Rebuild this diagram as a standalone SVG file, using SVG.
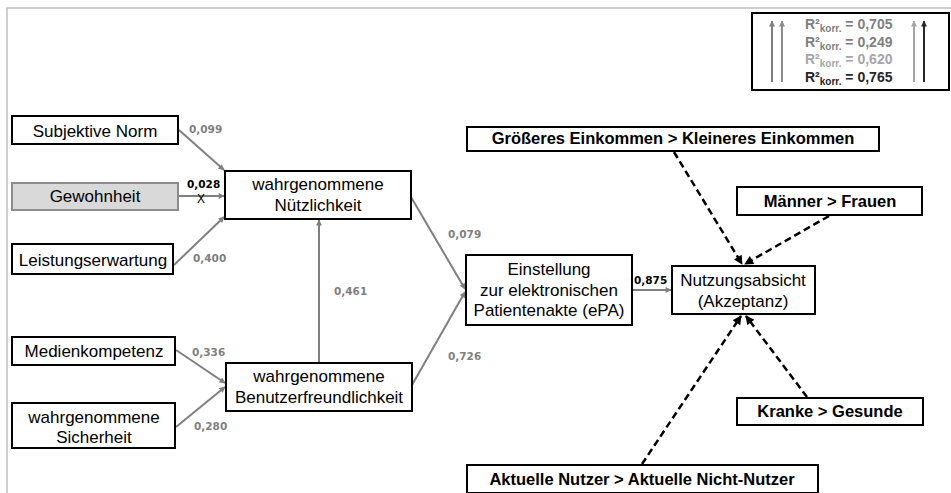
<svg xmlns="http://www.w3.org/2000/svg" width="951" height="493" viewBox="0 0 951 493">
<style>
.box{fill:#fff;stroke:#000;stroke-width:2}
.t{font-family:"Liberation Sans",Arial,sans-serif;font-size:17px;fill:#000;text-anchor:middle}
.tb{font-family:"Liberation Sans",Arial,sans-serif;font-size:16.5px;font-weight:bold;fill:#000;text-anchor:middle}
.n{font-family:"DejaVu Sans",sans-serif;font-size:10.5px;font-weight:bold;fill:#7f7f7f}
.g{stroke:#7f7f7f;stroke-width:2;fill:none;marker-end:url(#ag)}
.d{stroke:#000;stroke-width:2.5;stroke-dasharray:7 4;fill:none;marker-end:url(#ad)}
.r{font-family:"Liberation Sans",Arial,sans-serif;font-size:14px;font-weight:bold}
</style>
<defs>
<marker id="ag" viewBox="0 0 10 10" refX="9" refY="5" markerUnits="userSpaceOnUse" markerWidth="7" markerHeight="6" orient="auto"><path d="M0,0L10,5L0,10z" fill="#7f7f7f"/></marker>
<marker id="ad" viewBox="0 0 10 10" refX="9" refY="5" markerUnits="userSpaceOnUse" markerWidth="10" markerHeight="9" orient="auto"><path d="M0,0L10,5L0,10z" fill="#000"/></marker>
<marker id="al1" viewBox="0 0 10 10" refX="9" refY="5" markerUnits="userSpaceOnUse" markerWidth="7" markerHeight="6" orient="auto"><path d="M0,0L10,5L0,10z" fill="#7f7f7f"/></marker>
<marker id="al2" viewBox="0 0 10 10" refX="9" refY="5" markerUnits="userSpaceOnUse" markerWidth="7" markerHeight="6" orient="auto"><path d="M0,0L10,5L0,10z" fill="#8c8c8c"/></marker>
<marker id="al3" viewBox="0 0 10 10" refX="9" refY="5" markerUnits="userSpaceOnUse" markerWidth="7" markerHeight="6" orient="auto"><path d="M0,0L10,5L0,10z" fill="#a6a6a6"/></marker>
<marker id="al4" viewBox="0 0 10 10" refX="9" refY="5" markerUnits="userSpaceOnUse" markerWidth="7" markerHeight="6" orient="auto"><path d="M0,0L10,5L0,10z" fill="#262626"/></marker>
</defs>
<rect width="951" height="493" fill="#fff"/>
<path d="M7,493V8H951" fill="none" stroke="#bfbfbf" stroke-width="1.5"/>

<g id="connectors">
<line class="g" x1="179" y1="130" x2="224" y2="170"/>
<line class="g" x1="178" y1="196" x2="224" y2="196"/>
<line class="g" x1="174" y1="265" x2="224" y2="217"/>
<line class="g" x1="176" y1="350" x2="225" y2="383"/>
<line class="g" x1="176" y1="427" x2="225" y2="387"/>
<line class="g" x1="319" y1="363" x2="319" y2="220"/>
<line class="g" x1="411" y1="197" x2="465" y2="289"/>
<line class="g" x1="412" y1="385" x2="465" y2="292"/>
<line class="g" x1="632" y1="290" x2="671" y2="290"/>
<line class="d" x1="674" y1="152" x2="742" y2="264"/>
<line class="d" x1="829" y1="216" x2="745" y2="264"/>
<line class="d" x1="807" y1="397" x2="746" y2="316"/>
<line class="d" x1="642" y1="464" x2="741" y2="316"/>
<text class="n" x="189" y="133">0,099</text>
<text class="n" x="187" y="188" style="fill:#000">0,028</text>
<text x="201" y="203" font-family="Liberation Sans,Arial,sans-serif" font-size="12" text-anchor="middle" fill="#000">X</text>
<text class="n" x="193" y="262">0,400</text>
<text class="n" x="192" y="356">0,336</text>
<text class="n" x="194" y="430">0,280</text>
<text class="n" x="334" y="295">0,461</text>
<text class="n" x="448" y="238">0,079</text>
<text class="n" x="448" y="360">0,726</text>
<text class="n" x="634" y="284" style="fill:#000">0,875</text>
</g>

<g id="n-subjektive-norm"><rect class="box" x="12" y="116" width="166" height="28"/><text class="t" x="95" y="137">Subjektive Norm</text></g>
<g id="n-gewohnheit"><rect x="12" y="183" width="166" height="27" fill="#d9d9d9" stroke="#8c8c8c" stroke-width="2"/><text class="t" x="95" y="202">Gewohnheit</text></g>
<g id="n-leistungserwartung"><rect class="box" x="12" y="244" width="161" height="30"/><text class="t" x="93" y="266">Leistungserwartung</text></g>
<g id="n-nuetzlichkeit"><rect class="box" x="225" y="171" width="186" height="48"/><text class="t" x="318" y="190">wahrgenommene</text><text class="t" x="318" y="211">Nützlichkeit</text></g>
<g id="n-medienkompetenz"><rect class="box" x="12" y="337" width="163" height="28"/><text class="t" x="94" y="357">Medienkompetenz</text></g>
<g id="n-sicherheit"><rect class="box" x="12" y="403" width="163" height="45"/><text class="t" x="94" y="423">wahrgenommene</text><text class="t" x="94" y="443">Sicherheit</text></g>
<g id="n-benutzerfreundlichkeit"><rect class="box" x="226" y="363" width="186" height="48"/><text class="t" x="319" y="382">wahrgenommene</text><text class="t" x="319" y="403">Benutzerfreundlichkeit</text></g>
<g id="n-einstellung"><rect class="box" x="466" y="255" width="166" height="70"/><text class="t" x="549" y="275">Einstellung</text><text class="t" x="549" y="296">zur elektronischen</text><text class="t" x="549" y="316">Patientenakte (ePA)</text></g>
<g id="n-nutzungsabsicht"><rect class="box" x="672" y="266" width="143" height="48"/><text class="t" x="743" y="286">Nutzungsabsicht</text><text class="t" x="743" y="307">(Akzeptanz)</text></g>
<g id="n-einkommen"><rect class="box" x="467" y="127" width="412" height="24"/><text class="tb" x="673" y="144">Größeres Einkommen &gt; Kleineres Einkommen</text></g>
<g id="n-geschlecht"><rect class="box" x="737" y="187" width="185" height="28"/><text class="tb" x="830" y="207">Männer &gt; Frauen</text></g>
<g id="n-gesundheit"><rect class="box" x="737" y="398" width="186" height="27"/><text class="tb" x="830" y="417">Kranke &gt; Gesunde</text></g>
<g id="n-nutzer"><rect class="box" x="467" y="465" width="351" height="28"/><text class="tb" x="642" y="485">Aktuelle Nutzer &gt; Aktuelle Nicht-Nutzer</text></g>

<g id="legend">
<rect x="752" y="13" width="197" height="77" fill="#fff" stroke="#000" stroke-width="2"/>
<line x1="772" y1="82" x2="772" y2="21" stroke="#7f7f7f" stroke-width="2" marker-end="url(#al1)"/>
<line x1="782" y1="82" x2="782" y2="21" stroke="#8c8c8c" stroke-width="2" marker-end="url(#al2)"/>
<line x1="914" y1="82" x2="914" y2="21" stroke="#a6a6a6" stroke-width="2" marker-end="url(#al3)"/>
<line x1="924" y1="82" x2="924" y2="21" stroke="#262626" stroke-width="2" marker-end="url(#al4)"/>
<text class="r" x="805" y="29" fill="#7f7f7f">R²<tspan font-size="10" dy="3">korr.</tspan><tspan dy="-3"> = 0,705</tspan></text>
<text class="r" x="805" y="46.5" fill="#7f7f7f">R²<tspan font-size="10" dy="3">korr.</tspan><tspan dy="-3"> = 0,249</tspan></text>
<text class="r" x="805" y="64" fill="#a6a6a6">R²<tspan font-size="10" dy="3">korr.</tspan><tspan dy="-3"> = 0,620</tspan></text>
<text class="r" x="805" y="81.5" fill="#262626">R²<tspan font-size="10" dy="3">korr.</tspan><tspan dy="-3"> = 0,765</tspan></text>
</g>
</svg>
